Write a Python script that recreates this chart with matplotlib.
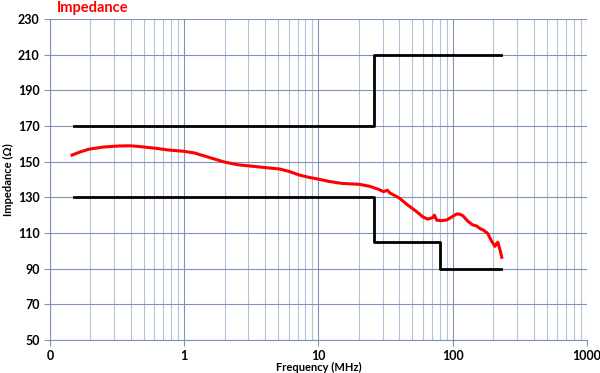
import matplotlib.pyplot as plt
from matplotlib.ticker import FixedLocator, LogLocator, NullFormatter

plt.rcParams['font.family'] = ['Lato', 'DejaVu Sans']

# measured impedance (MHz, ohm)
freq = [0.146, 0.17, 0.195, 0.25, 0.327, 0.40, 0.461, 0.60, 0.772, 1.0, 1.19, 1.5, 1.99,
        2.5, 3.06, 4.0, 5.12, 6.0, 7.21, 8.5, 10, 12, 15, 20.2, 24.0, 28.0, 30.5,
        32.7, 33.9, 37, 40.2, 46, 53.8, 60, 65, 70.9, 73, 76, 82, 90.2, 98, 107, 113,
        119, 130, 141, 150, 159, 170, 182, 193, 206, 212, 217, 225, 232]
imp = [153.7, 155.6, 157.0, 158.2, 158.8, 158.9, 158.5, 157.6, 156.5, 155.8, 154.9, 152.6, 149.8,
       148.3, 147.6, 146.7, 145.9, 144.6, 142.5, 141.2, 140.2, 138.9, 137.8, 137.3, 136.2, 134.5, 133.2,
       134.0, 132.5, 131.0, 129.5, 125.8, 122.0, 119.0, 117.8, 118.6, 120.0, 117.2, 116.9, 117.3, 118.9, 120.7, 120.5,
       119.7, 116.5, 114.5, 114.0, 112.6, 111.5, 109.8, 106.0, 102.5, 104.0, 104.8, 100.5, 96.4]

# limit lines
upper_f = [0.15, 26, 26, 230]
upper_z = [170, 170, 210, 210]
lower_f = [0.15, 26, 26, 80, 80, 230]
lower_z = [130, 130, 105, 105, 90, 90]

yticks = [50, 70, 90, 110, 130, 150, 170, 190, 210, 230]
xticks = [0.1, 1, 10, 100, 1000]
xlabels = ['0', '1', '10', '100', '1000']

fig = plt.figure(figsize=(6, 3.73), dpi=100)
ax = fig.add_axes([0.0833, 0.0885, 0.895, 0.8605])

ax.plot(upper_f, upper_z, color='black', lw=2)
ax.plot(lower_f, lower_z, color='black', lw=2)
ax.plot(freq, imp, color='#ff0000', lw=2.2)

ax.set_xscale('log')
ax.set_xlim(0.1, 1000)
ax.set_ylim(50, 230)
ax.xaxis.set_major_locator(FixedLocator(xticks))
ax.set_xticklabels(xlabels)
ax.xaxis.set_minor_locator(LogLocator(base=10, subs=range(2, 10)))
ax.xaxis.set_minor_formatter(NullFormatter())
ax.set_yticks(yticks)

ax.grid(True, which='major', color='#7f92b8', lw=0.8)
ax.grid(True, which='minor', axis='x', color='#b4c1d8', lw=0.8)
ax.set_axisbelow(True)

for s in ['top', 'right']:
    ax.spines[s].set_visible(False)
for s in ['left', 'bottom']:
    ax.spines[s].set_color('#7f92b8')
ax.tick_params(axis='both', which='major', length=4, color='#7f92b8', labelsize=9)
ax.tick_params(axis='x', which='minor', length=0)
for lab in ax.get_xticklabels() + ax.get_yticklabels():
    lab.set_fontweight('bold')

ax.set_xlabel('Frequency (MHz)', fontsize=8, fontweight='bold', labelpad=0)
ax.set_ylabel('Impedance (Ω)', fontsize=8, fontweight='bold', labelpad=3)
fig.text(0.095, 0.968, 'Impedance', color='#ff0000', fontsize=10.5, fontweight='bold')

plt.savefig('out.png', dpi=100)
